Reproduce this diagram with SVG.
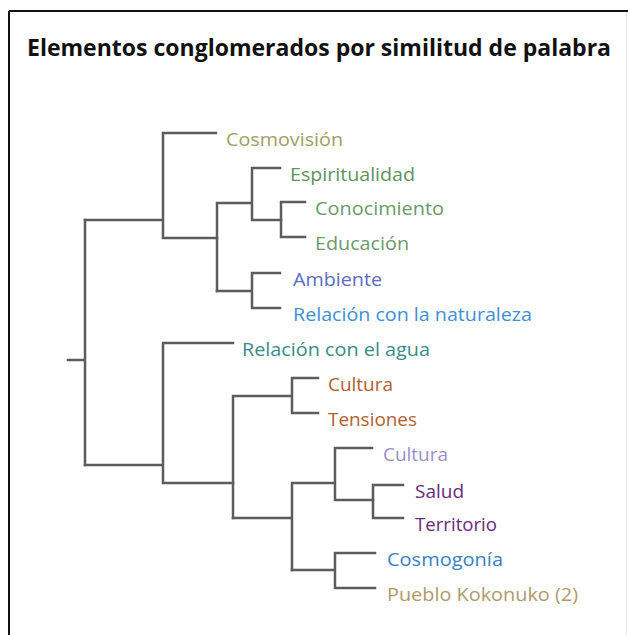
<svg xmlns="http://www.w3.org/2000/svg" width="628" height="635" viewBox="0 0 628 635">
<style>
.lbl{font-family:"Open Sans","Noto Sans","Liberation Sans",sans-serif;font-size:18.5px;}
.ttl{font-family:"Open Sans","Noto Sans","Liberation Sans",sans-serif;font-size:22.5px;font-weight:bold;fill:#111;}
.br{fill:none;stroke:#5c5c5c;stroke-width:2.5;stroke-linecap:square;stroke-linejoin:miter;}
</style>
<rect x="0" y="0" width="628" height="635" fill="#ffffff"/>
<path d="M9 11 H628 M9 11 V635" fill="none" stroke="#111" stroke-width="2"/>
<path d="M626.5 12 V635" fill="none" stroke="#e6e6e6" stroke-width="1"/>
<text class="ttl" x="27" y="56" textLength="584" lengthAdjust="spacingAndGlyphs">Elementos conglomerados por similitud de palabra</text>
<g id="connectors" class="br">
<path d="M68 360 H85 M85 220 V465"/>
<path d="M85 220 H163 M163 133 V238 M163 133 H216 M163 238 H217"/>
<path d="M217 203 V291 M217 203 H252 M252 168 V220 M252 168 H280 M252 220 H281"/>
<path d="M281 202 V237 M281 202 H305 M281 237 H305"/>
<path d="M217 291 H252 M252 273 V308 M252 273 H280 M252 308 H280"/>
<path d="M85 465 H163 M163 343 V483 M163 343 H233 M163 483 H233"/>
<path d="M233 396 V518 M233 396 H292 M292 378 V413 M292 378 H318 M292 413 H318"/>
<path d="M233 518 H292 M292 483 V570 M292 483 H335 M335 448 V500 M335 448 H372 M335 500 H373"/>
<path d="M373 485 V518 M373 485 H403 M373 518 H403"/>
<path d="M292 570 H335 M335 553 V588 M335 553 H375 M335 588 H375"/>
</g>
<g id="n-cosmovision"><text class="lbl" x="226" y="145.5" textLength="117" lengthAdjust="spacingAndGlyphs" fill="#a0a064">Cosmovisión</text></g>
<g id="n-espiritualidad"><text class="lbl" x="290" y="180.5" textLength="125" lengthAdjust="spacingAndGlyphs" fill="#5f935f">Espiritualidad</text></g>
<g id="n-conocimiento"><text class="lbl" x="315" y="214.5" textLength="129" lengthAdjust="spacingAndGlyphs" fill="#6a9a6a">Conocimiento</text></g>
<g id="n-educacion"><text class="lbl" x="315" y="249.5" textLength="94" lengthAdjust="spacingAndGlyphs" fill="#6a9a6a">Educación</text></g>
<g id="n-ambiente"><text class="lbl" x="293" y="285.5" textLength="89" lengthAdjust="spacingAndGlyphs" fill="#5b6cc2">Ambiente</text></g>
<g id="n-relacion-naturaleza"><text class="lbl" x="293" y="320.5" textLength="239" lengthAdjust="spacingAndGlyphs" fill="#3e8ed8">Relación con la naturaleza</text></g>
<g id="n-relacion-agua"><text class="lbl" x="242" y="355.5" textLength="188" lengthAdjust="spacingAndGlyphs" fill="#3a8a8a">Relación con el agua</text></g>
<g id="n-cultura1"><text class="lbl" x="328" y="390.5" textLength="65" lengthAdjust="spacingAndGlyphs" fill="#b0602e">Cultura</text></g>
<g id="n-tensiones"><text class="lbl" x="328" y="425.5" textLength="89" lengthAdjust="spacingAndGlyphs" fill="#b0602e">Tensiones</text></g>
<g id="n-cultura2"><text class="lbl" x="383" y="460.5" textLength="65" lengthAdjust="spacingAndGlyphs" fill="#9a90c8">Cultura</text></g>
<g id="n-salud"><text class="lbl" x="415" y="497.5" textLength="49" lengthAdjust="spacingAndGlyphs" fill="#6a2a7c">Salud</text></g>
<g id="n-territorio"><text class="lbl" x="415" y="530.5" textLength="82" lengthAdjust="spacingAndGlyphs" fill="#6a2a7c">Territorio</text></g>
<g id="n-cosmogonia"><text class="lbl" x="387" y="565.5" textLength="116" lengthAdjust="spacingAndGlyphs" fill="#3a7fc4">Cosmogonía</text></g>
<g id="n-pueblo"><text class="lbl" x="387" y="600.5" textLength="191" lengthAdjust="spacingAndGlyphs" fill="#b09a6c">Pueblo Kokonuko (2)</text></g>
</svg>
